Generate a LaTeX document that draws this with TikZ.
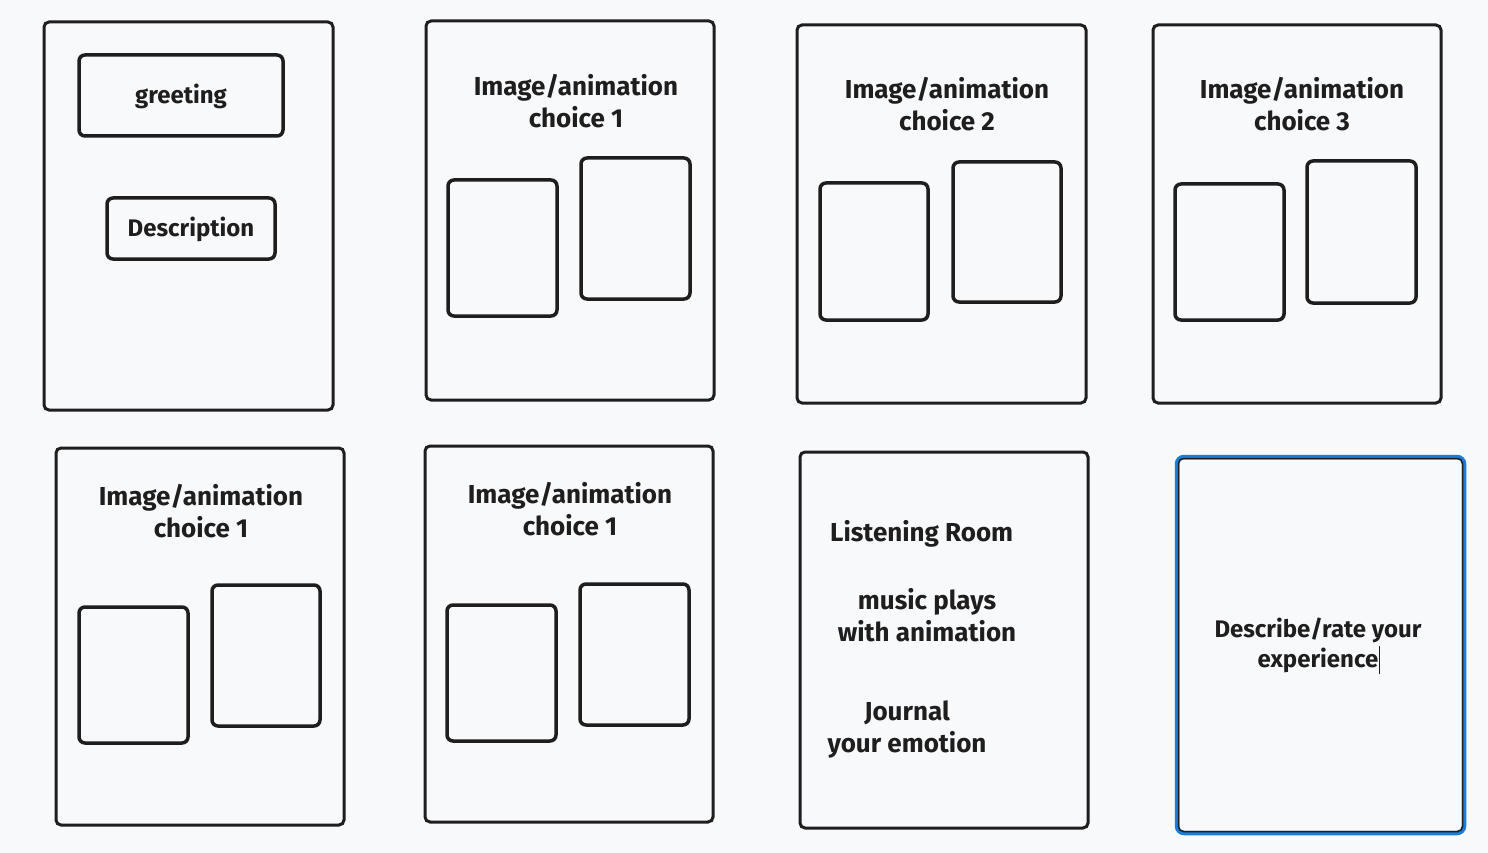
\documentclass[tikz,border=0pt]{standalone}
\usepackage{fontspec}
\setmainfont{Fira Sans}
\definecolor{bg}{HTML}{F8F9FB}
\definecolor{ink}{HTML}{1E1E1E}
\definecolor{selblue}{HTML}{1C7CD6}
\tikzset{
  screen/.style={draw=ink,line width=3pt,rounded corners=5pt},
  inner/.style={draw=ink,line width=3.5pt,rounded corners=6pt},
  lbl/.style={text=ink,font=\fontsize{26}{32}\selectfont\bfseries,align=center,inner sep=0pt},
  small/.style={font=\fontsize{24}{30}\selectfont\bfseries},
}
\begin{document}
\begin{tikzpicture}[x=1pt,y=-1pt]
\fill[bg] (0,0) rectangle (1488,853);
\useasboundingbox (0,0) rectangle (1488,853);
% screen 1
\draw[screen] (44,22) rectangle (333,410);
\draw[inner] (79,55) rectangle (283,136);
\node[lbl,small] (greet) at (181,96) {greeting};
\draw[inner] (107,198) rectangle (275,259);
\node[lbl,small] (desc) at (191,229) {Description};
% screen 2
\draw[screen] (426,21) rectangle (714,400);
\node[lbl] (t2) at (576,101) {Image/animation\\choice 1};
\draw[inner] (448,180) rectangle (557,316);
\draw[inner] (581,158) rectangle (690,299);
% screen 3
\draw[screen] (797,25) rectangle (1086,403);
\node[lbl] (t3) at (947,104) {Image/animation\\choice 2};
\draw[inner] (820,183) rectangle (928,320);
\draw[inner] (953,162) rectangle (1061,302);
% screen 4
\draw[screen] (1153,25) rectangle (1441,403);
\node[lbl] (t4) at (1302,104) {Image/animation\\choice 3};
\draw[inner] (1175,184) rectangle (1284,320);
\draw[inner] (1307,161) rectangle (1416,303);
% screen 5
\draw[screen] (56,448) rectangle (344,825);
\node[lbl] (t5) at (201,511) {Image/animation\\choice 1};
\draw[inner] (79,607) rectangle (188,743);
\draw[inner] (212,585) rectangle (320,726);
% screen 6
\draw[screen] (425,446) rectangle (713,822);
\node[lbl] (t6) at (570,509) {Image/animation\\choice 1};
\draw[inner] (447,605) rectangle (556,741);
\draw[inner] (580,584) rectangle (689,725);
% screen 7
\draw[screen] (800,452) rectangle (1088,828);
\node[lbl,anchor=west] (lr) at (830,534) {Listening Room};
\node[lbl] (mp) at (927,615) {music plays\\with animation};
\node[lbl] (je) at (907,730) {Journal\\your emotion};
% screen 8 (selected)
\draw[draw=selblue,line width=4.5pt,rounded corners=7pt] (1177,457) rectangle (1464,833);
\draw[draw=ink,line width=1.5pt,rounded corners=5pt] (1178.5,458.5) rectangle (1462.5,831.5);
\node[lbl,small] (dr) at (1318,646) {Describe/rate your\\experience\rlap{\hspace{1pt}\rule[-7pt]{0.9pt}{28pt}}};
\end{tikzpicture}
\end{document}
